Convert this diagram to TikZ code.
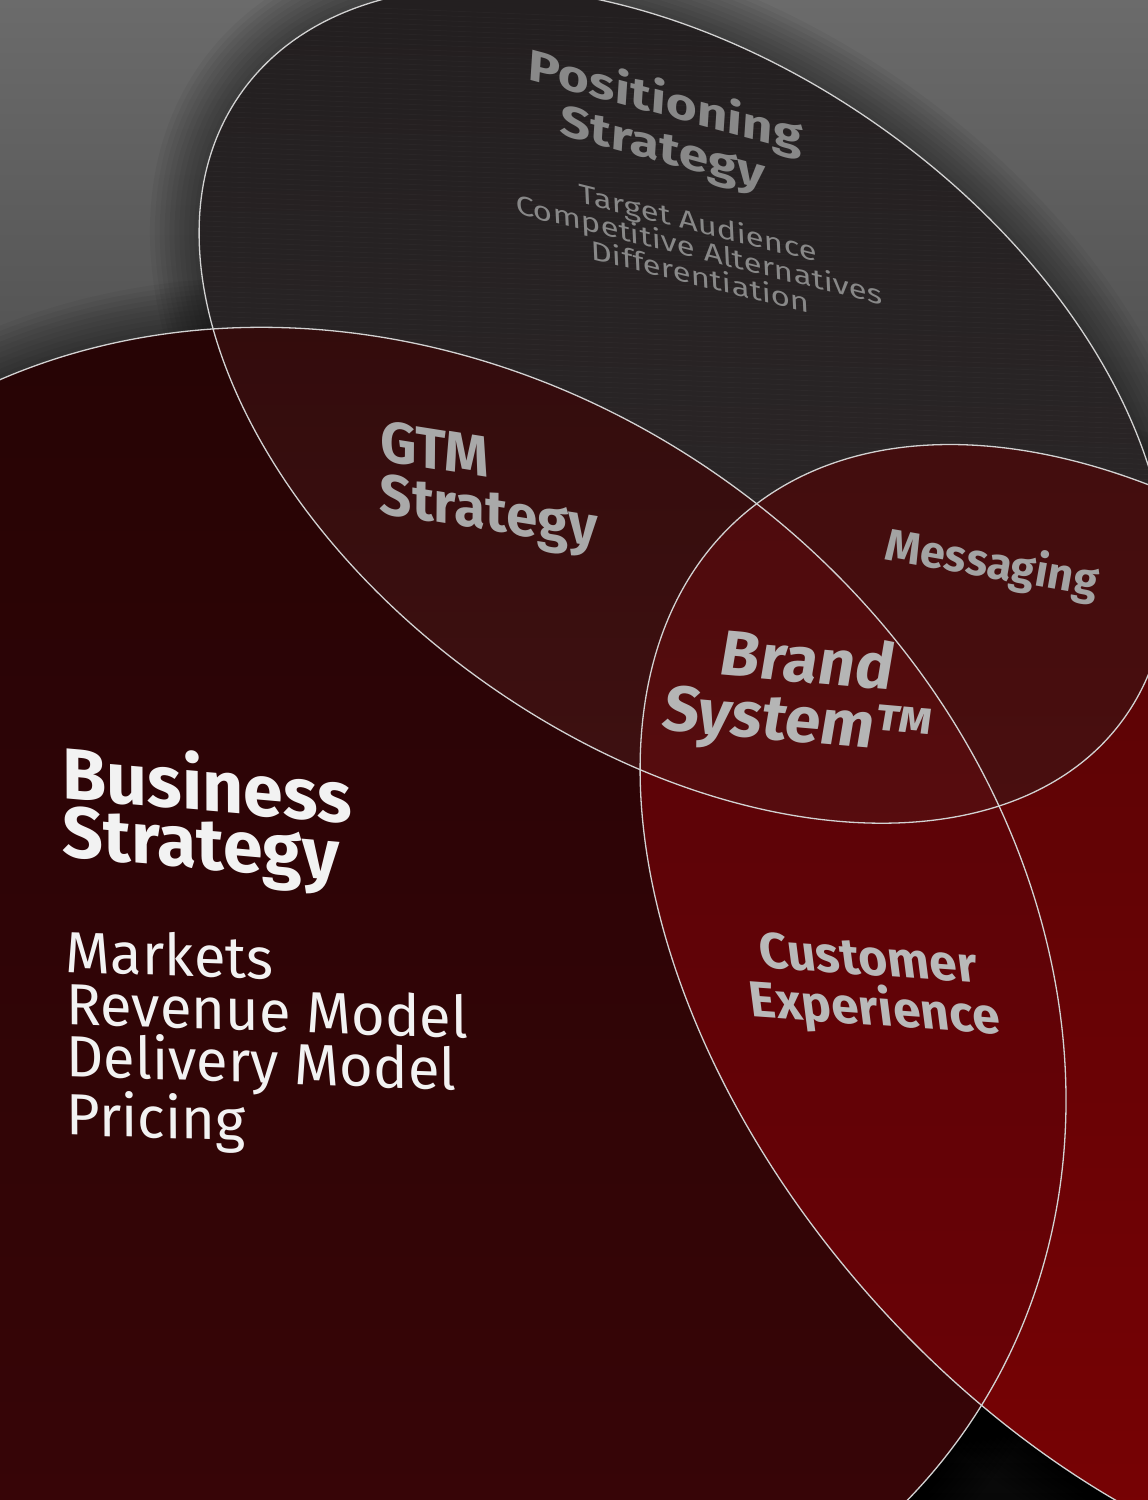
\documentclass[tikz,border=0pt]{standalone}
\usepackage{fontspec}
\setmainfont{Fira Sans}

\definecolor{bgtop}{HTML}{6B6B6B}
\definecolor{bgmid}{HTML}{5C5C5C}
\definecolor{bgbot}{HTML}{080808}
\definecolor{bizTop}{HTML}{260405}
\definecolor{bizBot}{HTML}{3A0507}
\definecolor{cxTop}{HTML}{540306}
\definecolor{cxBot}{HTML}{7C0204}
\definecolor{bcTop}{HTML}{550307}
\definecolor{bcBot}{HTML}{6E0206}
\definecolor{posTop}{HTML}{221E1F}
\definecolor{posBot}{HTML}{2F2A2B}
\definecolor{gtmTop}{HTML}{2A0808}
\definecolor{gtmBot}{HTML}{401112}
\definecolor{msgTop}{HTML}{3A0B0C}
\definecolor{msgBot}{HTML}{4A0E0F}
\definecolor{brTop}{HTML}{400A0B}
\definecolor{brBot}{HTML}{580C0E}
\definecolor{rim}{HTML}{D2D2D2}
\definecolor{posgray}{HTML}{888888}
\definecolor{gtmgray}{HTML}{A9A9A9}
\definecolor{msggray}{HTML}{A3A3A3}
\definecolor{brgray}{HTML}{B5B5B5}
\definecolor{cxgray}{HTML}{B9B9B9}
\definecolor{bizwhite}{HTML}{F2F2F2}

\newcommand*{\EllPos}[2]{% #1 = path options, #2 = extra radius
\path[#1, rotate around={-35.2:(683,405)}] (683,405)
  ellipse [x radius={541pt+#2}, y radius={341pt+#2}];
}
\newcommand*{\EllBiz}[2]{% #1 = path options, #2 = extra radius
\path[#1, rotate around={-37.1:(363,1002)}] (363,1002)
  ellipse [x radius={739pt+#2}, y radius={635pt+#2}];
}
\newcommand*{\EllCx}[2]{% #1 = path options, #2 = extra radius
\path[#1, rotate around={-48.1:(1189,1020)}] (1189,1020)
  ellipse [x radius={674pt+#2}, y radius={422pt+#2}];
}

\begin{document}
\begin{tikzpicture}[x=1pt, y=-1pt,
    heavy/.style 2 args={font=\fontsize{#1}{#2}\selectfont\bfseries, inner sep=0pt},
    light/.style 2 args={font=\fontsize{#1}{#2}\selectfont, inner sep=0pt},
    outline/.style={draw=rim, line width=1.3pt},
    haze/.style={fill=black, fill opacity=0.045}]

    \useasboundingbox (0,0) rectangle (1148,1500);
    \shade[top color=bgtop, middle color=bgmid, bottom color=bgbot] (0,0) rectangle (1148,1500);

    % soft shadows
    \foreach \g in {1,...,10} {
        \EllPos{haze}{\g*5pt}
        \EllBiz{haze}{\g*5pt}
        \EllCx{haze}{\g*5pt}
    }

    % business and customer experience
    \EllBiz{top color=bizTop, bottom color=bizBot}{0pt}
    \EllCx{top color=cxTop, bottom color=cxBot}{0pt}
    \begin{scope}
        \EllBiz{clip}{0pt}
        \EllCx{top color=bcTop, bottom color=bcBot}{0pt}
    \end{scope}

    % positioning and overlaps
    \EllPos{top color=posTop, bottom color=posBot}{0pt}
    \begin{scope}
        \EllPos{clip}{0pt}
        \foreach \y in {0,5,...,840} {
            \draw[white, opacity=0.025, line width=0.8pt] (180,\y) -- (1160,\y+40);
        }
    \end{scope}
    \begin{scope}
        \EllBiz{clip}{0pt}
        \EllPos{top color=gtmTop, bottom color=gtmBot}{0pt}
    \end{scope}
    \begin{scope}
        \EllCx{clip}{0pt}
        \EllPos{top color=msgTop, bottom color=msgBot}{0pt}
        \EllBiz{clip}{0pt}
        \EllPos{top color=brTop, bottom color=brBot}{0pt}
    \end{scope}

    \EllPos{outline}{0pt}
    \EllBiz{outline}{0pt}
    \EllCx{outline}{0pt}

    % labels
    \node[heavy={55}{58}, text=posgray, align=center, rotate=-15, xslant=-0.2, yscale=0.78] (posTitle) at (664,126) {Positioning\\Strategy};
    \node[light={34}{34}, text=posgray, align=center, rotate=-14, xslant=-0.3, yscale=0.76] (posList) at (699,249) {Target Audience\\Competitive Alternatives\\Differentiation};
    \node[heavy={57}{52}, text=gtmgray, align=left, rotate=-9, xslant=-0.15] (gtm) at (489,490) {GTM\\Strategy};
    \node[heavy={45}{45}, text=msggray, rotate=-10] (msg) at (992,565) {Messaging};
    \node[heavy={64}{60}, text=brgray, align=center, rotate=-5, xslant=0.08] (brand) at (802,695) {Brand\\System™};
    \node[heavy={72}{58}, text=bizwhite, align=left, anchor=west, rotate=-5, xslant=-0.09] (biz) at (62,806) {Business\\Strategy};
    \node[light={58}{52}, text=bizwhite, align=left, anchor=west, rotate=-2, xslant=-0.04] (bizList) at (66,1038) {Markets\\Revenue Model\\Delivery Model\\Pricing};
    \node[heavy={50}{50}, text=cxgray, align=center, rotate=-4, xslant=-0.2] (cx) at (872,988) {Customer\\Experience};

\end{tikzpicture}
\end{document}
